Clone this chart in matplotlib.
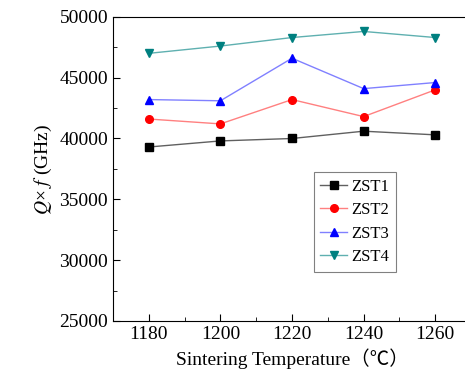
import matplotlib
matplotlib.use("Agg")
import matplotlib.pyplot as plt
from matplotlib.ticker import MultipleLocator

temps = [1180, 1200, 1220, 1240, 1260]
zst1 = [39300, 39800, 40000, 40600, 40300]
zst2 = [41600, 41200, 43200, 41800, 44000]
zst3 = [43200, 43100, 46600, 44100, 44600]
zst4 = [47000, 47600, 48300, 48800, 48300]
labels = ["ZST1", "ZST2", "ZST3", "ZST4"]

plt.rcParams['font.family'] = ['Liberation Serif', 'Noto Sans CJK SC']
plt.rcParams['mathtext.fontset'] = 'stix'

fig = plt.figure(figsize=(4.65, 3.83), dpi=100)
ax = fig.add_axes([0.243, 0.162, 0.77, 0.794])

series = [zst1, zst2, zst3, zst4]
markers = ['s', 'o', '^', 'v']
mcolors = ['black', 'red', 'blue', '#008080']
lcolors = ['#606060', '#ff8080', '#8080ff', '#5fb0b0']
for s, m, mc, lc, lab in zip(series, markers, mcolors, lcolors, labels):
    ax.plot(temps, s, color=lc, lw=1.0, marker=m, markersize=5.5,
            markerfacecolor=mc, markeredgecolor=mc, label=lab)

ax.set_xlim(1170, 1270)
ax.set_ylim(25000, 50000)
ax.spines['right'].set_visible(False)
ax.xaxis.set_major_locator(MultipleLocator(20))
ax.xaxis.set_minor_locator(MultipleLocator(10))
ax.yaxis.set_major_locator(MultipleLocator(5000))
ax.yaxis.set_minor_locator(MultipleLocator(2500))
ax.tick_params(which='both', direction='in', top=False, right=False, labelsize=14)
ax.tick_params(which='major', length=5)
ax.tick_params(which='minor', length=3)

ax.set_xlabel("Sintering Temperature（℃）", fontsize=14)
ax.set_ylabel("$Q$× $f$ (GHz)", fontsize=14)

leg = ax.legend(loc='center right', bbox_to_anchor=(0.79, 0.326), fontsize=12,
                fancybox=False, edgecolor='#808080', framealpha=1,
                handlelength=1.6, handletextpad=0.25, borderpad=0.4,
                labelspacing=0.45, borderaxespad=0)
leg.get_frame().set_linewidth(0.8)

fig.savefig("out.png", dpi=100)
